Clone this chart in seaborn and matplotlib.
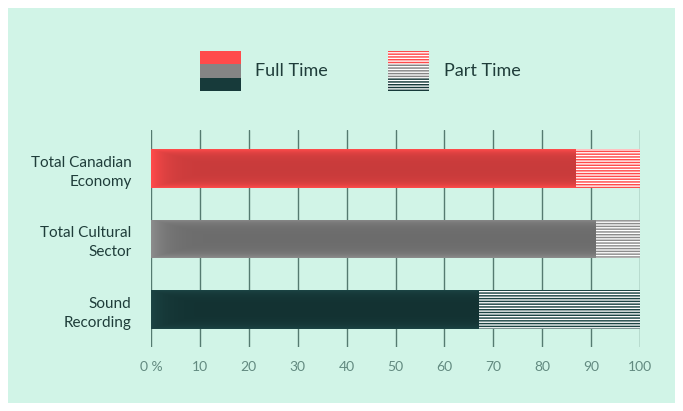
import numpy as np
import matplotlib
matplotlib.use("Agg")
import matplotlib.pyplot as plt
from matplotlib.patches import Rectangle
import seaborn as sns

# data
categories = ["Total Canadian\nEconomy", "Total Cultural\nSector", "Sound\nRecording"]
full_time = [86.8, 90.8, 67.0]
part_time = [13.2, 9.2, 33.0]
ticks = [0, 10, 20, 30, 40, 50, 60, 70, 80, 90, 100]
tick_labels = ["0 %", "10", "20", "30", "40", "50", "60", "70", "80", "90", "100"]

bar_colors = ["#c83b3b", "#6c6c6c", "#133232"]
edge_colors = ["#ff4b4b", "#8c8c8c", "#1c4444"]
bg = "#d1f4e7"
text_dark = "#1f3d3a"
tick_col = "#628a80"
grid_col = "#557a70"

sns.set_theme(style="white")
plt.rcParams["font.family"] = ["Lato", "DejaVu Sans"]
plt.rcParams["hatch.linewidth"] = 1.05

fig = plt.figure(figsize=(6.83, 4.11), dpi=100, facecolor="white")
W, H = 683, 411
fig.add_artist(Rectangle((8 / W, 8 / H), 667 / W, 395 / H, transform=fig.transFigure,
                         facecolor=bg, edgecolor="none", zorder=0))

ax = fig.add_axes([151 / W, 1 - 347 / H, 489 / W, 217 / H])
ax.set_facecolor("none")

totals = [f + p for f, p in zip(full_time, part_time)]

# part time (full length, hatched) then full time on top
sns.barplot(x=totals, y=categories, ax=ax, width=0.55, orient="h")
for patch, c in zip(ax.patches, edge_colors):
    patch.set_facecolor("white")
    patch.set_edgecolor(c)
    patch.set_linewidth(0)
    patch.set_hatch("------")
n_part = len(ax.patches)

sns.barplot(x=full_time, y=categories, ax=ax, width=0.55, orient="h")
full_patches = ax.patches[n_part:]
for patch, c in zip(full_patches, bar_colors):
    patch.set_facecolor(c)
    patch.set_edgecolor("none")

# soft glow on full-time bars
xlim = (0, 100)
ylim = (2.532, -0.546)
for patch, c, e in zip(full_patches, bar_colors, edge_colors):
    x0, y0 = patch.get_x(), patch.get_y()
    w, h = patch.get_width(), patch.get_height()
    xs = np.linspace(0, w, 300)
    ys = np.linspace(0, h, 60)
    X, Y = np.meshgrid(xs, ys)
    dy = np.minimum(Y, h - Y)
    t = np.maximum(np.exp(-X / 3.0), np.exp(-dy / 0.06))
    cc = np.array(matplotlib.colors.to_rgb(c))
    ec = np.array(matplotlib.colors.to_rgb(e))
    img = cc[None, None, :] + (ec - cc)[None, None, :] * t[:, :, None]
    im = ax.imshow(img, extent=(x0, x0 + w, y0 + h, y0), aspect="auto",
                   interpolation="bilinear", zorder=2)
    im.set_clip_path(patch)

ax.set_xlim(*xlim)
ax.set_ylim(*ylim)
ax.set_xticks(ticks)
ax.set_xticklabels(tick_labels)
ax.set_axisbelow(True)
ax.grid(axis="x", color=grid_col, linewidth=1.0)
ax.grid(axis="y", visible=False)
for s in ax.spines.values():
    s.set_visible(False)
ax.tick_params(axis="x", length=0, pad=10, labelsize=10, labelcolor=tick_col)
ax.tick_params(axis="y", length=0, pad=14, labelsize=11, labelcolor=text_dark)
for lbl in ax.get_yticklabels():
    lbl.set_linespacing(1.45)
    lbl.set_horizontalalignment("right")
ax.set_xlabel("")
ax.set_ylabel("")

# legend drawn by hand
sw_w, sw_h = 41 / W, 40 / H
lx1, lx2, ly = 200 / W, 388 / W, 1 - 91 / H
for i, c in enumerate([edge_colors[0], "#858585", "#173a3a"]):
    fig.add_artist(Rectangle((lx1, ly + sw_h * (2 - i) / 3), sw_w, sw_h / 3,
                             transform=fig.transFigure, facecolor=c, edgecolor="none", zorder=3))
    fig.add_artist(Rectangle((lx2, ly + sw_h * (2 - i) / 3), sw_w, sw_h / 3,
                             transform=fig.transFigure, facecolor="white", edgecolor=c,
                             linewidth=0, hatch="------", zorder=3))
fig.text(255 / W, 1 - 71 / H, "Full Time", fontsize=13, color=text_dark, va="center", ha="left")
fig.text(444 / W, 1 - 71 / H, "Part Time", fontsize=13, color=text_dark, va="center", ha="left")

fig.savefig("out.png", dpi=100, facecolor="white")
